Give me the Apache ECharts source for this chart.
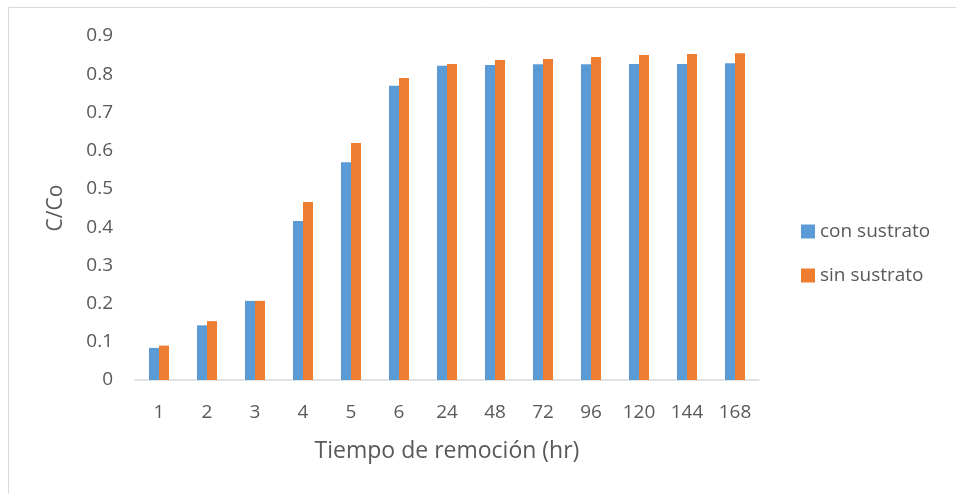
<!DOCTYPE html>
<html>
<head>
<meta charset="utf-8">
<script src="https://cdn.jsdelivr.net/npm/echarts@6/dist/echarts.min.js"></script>
<style>html,body{margin:0;padding:0;background:#fff}#c{width:956px;height:494px}</style>
</head>
<body>
<div id="c"></div>
<script>
var categories = ['1','2','3','4','5','6','24','48','72','96','120','144','168'];
var conSustrato = [0.084,0.143,0.207,0.416,0.570,0.770,0.822,0.824,0.826,0.826,0.827,0.827,0.829];
var sinSustrato = [0.090,0.154,0.207,0.466,0.620,0.790,0.827,0.837,0.840,0.845,0.850,0.853,0.855];
var seriesNames = ['con sustrato','sin sustrato'];
var yTicks = {min:0, max:0.9, interval:0.1};

var FONT = 'Open Sans';
var chart = echarts.init(document.getElementById('c'), null, {renderer:'canvas'});
chart.setOption({
  backgroundColor:'#fff',
  animation:false,
  graphic:[{type:'rect', shape:{x:8.5,y:7.5,width:960,height:500}, style:{fill:'none', stroke:'#d9d9d9', lineWidth:1}, silent:true}],
  grid:{left:135, right:197, top:36, bottom:114, containLabel:false},
  legend:{
    orient:'vertical', left:796, top:217, itemWidth:14, itemHeight:14, itemGap:25,
    icon:'rect',
    textStyle:{color:'#595959', fontSize:19, fontFamily:FONT},
    data:seriesNames
  },
  xAxis:{
    type:'category', data:categories,
    axisLine:{lineStyle:{color:'#d9d9d9', width:1.5}},
    axisTick:{show:false},
    axisLabel:{color:'#595959', fontSize:19, fontFamily:FONT, margin:23},
    name:'Tiempo de remoción (hr)', nameLocation:'middle', nameGap:60,
    nameTextStyle:{color:'#595959', fontSize:23, fontFamily:FONT}
  },
  yAxis:{
    type:'value', min:yTicks.min, max:yTicks.max, interval:yTicks.interval,
    splitLine:{show:false},
    axisLine:{show:false}, axisTick:{show:false},
    axisLabel:{color:'#595959', fontSize:19, fontFamily:FONT, margin:22,
      formatter:function(v){return v===0?'0':v.toFixed(1);}},
    name:'C/Co', nameLocation:'middle', nameGap:68,
    nameTextStyle:{color:'#595959', fontSize:21, fontFamily:FONT}
  },
  series:[
    {name:seriesNames[0], type:'bar', data:conSustrato, barWidth:10, barGap:'0%', itemStyle:{color:'#5B9BD5'}},
    {name:seriesNames[1], type:'bar', data:sinSustrato, barWidth:10, barGap:'0%', itemStyle:{color:'#ED7D31'}}
  ]
});
</script>
</body>
</html>
